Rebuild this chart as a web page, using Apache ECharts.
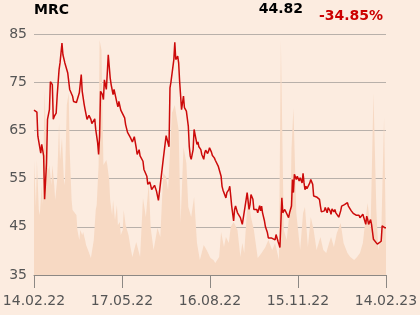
<!DOCTYPE html>
<html>
<head>
<meta charset="utf-8">
<script src="https://cdn.jsdelivr.net/npm/echarts@6/dist/echarts.min.js"></script>
<style>
html,body{margin:0;padding:0;background:#fcece0;}
#c{width:420px;height:315px;}
</style>
</head>
<body>
<div id="c"></div>
<script>
// Ticker header
const tickerName = 'MRC';
const lastPrice = '44.82';
const changePct = '-34.85%';

// X axis: calendar-day offsets from 14.02.22; tick labels every quarter
const tickLabels = ['14.02.22', '17.05.22', '16.08.22', '15.11.22', '14.02.23'];

// Price series: day offset and closing price
const days = [0,2,3,4,6,7,8,10,11,13,14,16,17,19,20,21,23,24,26,27,29,30,32,33,35,36,37,39,40,41,43,44,46,47,48,49,50,52,53,55,56,57,59,60,62,63,64,66,67,68,69,71,72,73,75,76,77,79,80,82,83,84,86,87,88,90,92,94,95,97,99,100,102,103,104,106,107,109,110,111,113,114,115,117,118,120,121,122,124,125,127,128,129,130,131,133,134,135,137,138,140,141,142,144,145,146,147,149,150,151,152,153,155,156,157,158,160,161,162,163,165,166,167,169,170,171,173,174,176,177,178,180,181,182,184,185,187,188,189,191,192,194,195,196,198,199,200,202,203,204,205,207,208,209,211,212,214,215,216,218,220,221,223,224,225,227,228,230,231,232,234,235,236,237,239,240,242,243,244,246,247,248,250,251,253,254,255,257,258,260,261,262,264,265,267,268,269,270,271,272,273,275,276,278,279,280,281,282,283,284,286,287,289,290,291,293,294,296,297,298,300,301,302,304,305,307,308,309,311,312,313,315,316,318,319,320,322,323,325,326,327,329,330,331,333,334,336,337,338,340,341,343,344,345,346,347,349,350,352,353,354,356,357,358,360,361,363,364,365];
const price = [69.2,69.2,68.8,63.8,63.7,60.3,62.1,59.7,50.7,58.3,67.3,69.3,75.1,74.5,67.3,67.9,68.6,72.1,77.6,79.0,83.1,80.7,79.0,79.3,76.9,76.8,73.5,73.1,72.1,71.0,70.6,70.8,70.7,72.8,72.4,76.6,73.1,70.4,69.3,67.3,67.6,68.1,67.3,66.4,66.8,67.4,65.2,62.4,60.0,63.8,73.1,72.4,71.4,75.5,73.5,76.9,80.7,75.9,74.5,72.4,73.5,73.1,70.7,69.9,71.0,69.2,68.9,67.6,66.2,64.6,64.4,63.5,62.6,62.8,63.7,61.4,60.0,61.0,59.7,59.5,58.6,56.9,56.8,55.5,53.8,54.3,53.6,52.7,53.1,53.6,52.4,52.1,50.5,52.1,53.8,54.1,59.0,59.3,63.9,63.7,61.6,73.8,75.0,74.8,79.7,83.3,79.7,80.4,79.0,75.2,74.8,69.3,72.1,69.7,69.5,69.0,65.9,61.7,59.7,59.0,61.0,65.2,64.8,62.1,62.6,61.6,61.0,60.0,59.0,60.3,60.9,60.2,60.7,61.4,60.5,59.8,59.3,58.8,58.6,57.6,57.4,55.5,53.4,52.6,52.4,51.0,52.1,52.7,53.4,51.4,49.3,46.2,48.6,49.3,47.9,47.6,46.9,46.2,45.5,45.2,50.7,52.1,48.6,49.6,51.7,50.7,48.6,48.3,48.6,47.9,49.4,48.3,49.3,47.9,46.2,45.0,43.8,42.7,42.3,42.7,42.4,42.5,42.3,43.4,42.0,41.4,40.7,51.0,47.9,48.6,48.3,48.6,46.9,47.9,49.3,54.8,52.1,55.9,56.2,54.8,55.5,54.5,55.2,54.1,56.1,54.1,52.7,53.4,52.9,53.1,54.1,54.8,53.8,51.4,51.0,51.2,51.0,50.7,49.3,48.1,48.3,48.3,49.0,47.9,49.0,48.3,47.6,48.7,48.1,48.6,47.9,48.3,47.0,48.3,49.3,49.4,49.6,49.8,50.0,49.3,48.9,48.3,48.1,47.8,47.6,47.4,47.2,47.4,46.9,47.1,47.6,47.2,45.5,47.2,46.5,45.5,46.5,45.5,42.4,42.3,42.0,41.4,41.1,41.7,42.0,45.2,45.2,44.8,44.82];

// Volume series (relative units): day offset and volume
const volDays = [0,2,3,5,6,8,9,11,13,15,16,18,19,21,22,24,26,27,29,31,32,34,36,37,39,40,42,44,45,47,48,50,51,53,54,56,58,59,61,62,64,65,67,68,70,72,73,75,76,78,79,81,82,84,86,87,89,90,92,93,95,98,100,102,106,110,113,116,119,121,124,128,131,134,137,139,143,146,150,152,155,158,160,163,166,169,172,176,179,183,186,188,192,194,197,199,202,204,207,211,214,216,218,222,225,228,232,236,240,243,247,250,254,256,259,262,266,267,269,272,276,279,281,284,287,290,293,297,300,303,306,308,311,314,318,321,325,328,332,335,338,341,344,346,349,352,355,357,360,363,365];
const volume = [115,68,115,65,60,90,70,185,115,105,110,90,110,90,75,95,152,115,137,95,90,170,182,125,75,65,67,60,45,35,45,40,43,35,30,25,23,17,15,35,65,70,110,235,225,110,110,115,110,95,75,60,75,55,70,50,53,40,45,65,50,40,28,18,33,18,77,58,92,47,25,47,38,102,98,85,162,170,145,52,128,112,68,58,78,32,15,30,25,17,15,12,18,43,28,38,32,48,53,45,18,32,22,82,58,45,17,22,28,35,25,32,15,235,45,35,72,126,167,62,25,62,68,28,58,45,25,38,25,22,32,38,28,42,52,32,22,18,15,18,22,32,58,72,45,182,65,25,38,158,28];

const chart = echarts.init(document.getElementById('c'), null, {renderer: 'canvas'});
const FONT = 'DejaVu Sans';
chart.setOption({
  animation: false,
  backgroundColor: '#fcece0',
  textStyle: {fontFamily: FONT},
  grid: {left: 34, right: 34, top: 34, bottom: 40, containLabel: false, outerBoundsMode: 'none'},
  graphic: [
    {type: 'text', left: 34, top: 3, style: {text: tickerName, font: 'bold 14px "DejaVu Sans"', fill: '#000'}},
    {type: 'text', right: 117, top: 2, style: {text: lastPrice, font: 'bold 14px "DejaVu Sans"', fill: '#000'}},
    {type: 'text', right: 37, top: 9, style: {text: changePct, font: 'bold 14px "DejaVu Sans"', fill: '#cc0000'}}
  ],
  xAxis: {
    type: 'value', min: 0, max: 365, interval: 91.25,
    axisLine: {show: true, onZero: false, lineStyle: {color: '#8c8884', width: 1}},
    axisTick: {show: true, length: 13, lineStyle: {color: '#8c8884'}},
    splitLine: {show: false},
    axisLabel: {
      show: true, showMinLabel: true, showMaxLabel: true, margin: 19,
      color: '#555', fontSize: 14, fontFamily: FONT,
      formatter: v => tickLabels[Math.round(v / 91.25)] || ''
    }
  },
  yAxis: [
    {
      type: 'value', min: 35, max: 85, interval: 10, position: 'left',
      axisLine: {show: false}, axisTick: {show: false},
      splitLine: {show: true, lineStyle: {color: '#b8b0aa', width: 1}},
      axisLabel: {color: '#555', fontSize: 14, fontFamily: FONT, margin: 7}
    },
    {
      type: 'value', min: 0, max: 241, show: false, splitLine: {show: false}
    }
  ],
  series: [
    {
      type: 'line', yAxisIndex: 1, symbol: 'none', silent: true, z: 1,
      data: volDays.map((d, i) => [d, volume[i]]),
      lineStyle: {width: 0},
      areaStyle: {color: '#f7d9c3', opacity: 1}
    },
    {
      type: 'line', yAxisIndex: 0, symbol: 'none', z: 3,
      data: days.map((d, i) => [d, price[i]]),
      lineStyle: {color: '#cc0a0a', width: 1.5}
    }
  ]
});
</script>
</body>
</html>
